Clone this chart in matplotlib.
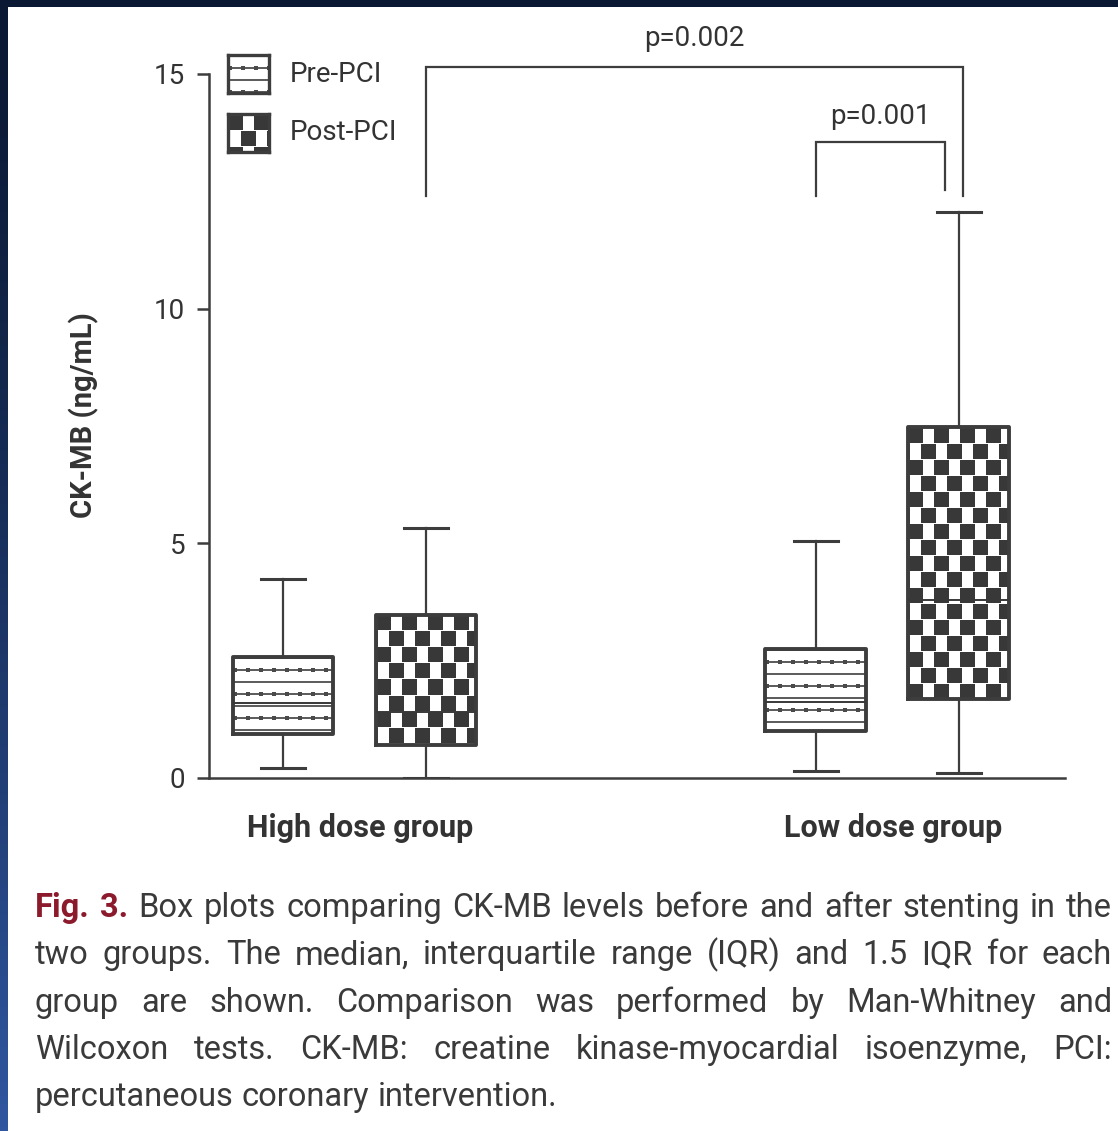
import numpy as np
import matplotlib.pyplot as plt
import matplotlib.transforms as transforms
from matplotlib.colors import to_rgb

# ---- data ----
groups = ['High dose group', 'Low dose group']
series = ['Pre-PCI', 'Post-PCI']
# five-number summaries: whisker low, Q1, median, Q3, whisker high (ng/mL)
pre_high = [0.21, 0.94, 1.60, 2.57, 4.23]
post_high = [0.00, 0.70, 1.40, 3.47, 5.32]
pre_low = [0.15, 1.00, 1.62, 2.74, 5.06]
post_low = [0.10, 1.68, 3.80, 7.47, 12.06]
yticks = [0, 5, 10, 15]
p_labels = ['p=0.002', 'p=0.001']

caption = [
    "Fig. 3. Box plots comparing CK-MB levels before and after stenting in the",
    "two groups. The median, interquartile range (IQR) and 1.5 IQR for each",
    "group are shown. Comparison was performed by Man-Whitney and",
    "Wilcoxon tests. CK-MB: creatine kinase-myocardial isoenzyme, PCI:",
    "percutaneous coronary intervention.",
]

W, H, DPI = 1118, 1131, 100
INK = '#3d3d3d'
DARK = '#383838'
TXT = '#333333'
FONT = ['Roboto', 'DejaVu Sans']
plt.rcParams['font.family'] = FONT


def fx(px):
    return px / W


def fy(py):
    return 1 - py / H


def checker(h, w, period=26, dark_w=15, ch=16):
    rr, cc = np.mgrid[0:h, 0:w]
    shift = (rr // ch) % 2 * (period // 2)
    dark = ((cc + shift) % period) < dark_w
    img = np.ones((h, w, 3))
    img[dark] = to_rgb(DARK)
    img[(rr % ch) == 0] = 1.0
    return img


def stripes(h, w, step=12):
    rr, cc = np.mgrid[0:h, 0:w]
    img = np.ones((h, w, 3))
    img[(rr % step) < 2] = to_rgb('#5e5e5e')
    k = rr % (2 * step)
    dots = (k >= step - 1) & (k < step + 3) & ((cc % 13) < 4)
    img[dots] = to_rgb('#4a4a4a')
    return img


fig = plt.figure(figsize=(W / DPI, H / DPI), dpi=DPI)
fig.patch.set_facecolor('white')

# dark page border (top band + left gradient strip)
top = fig.add_axes([0, fy(7), 1, 7 / H])
top.set_facecolor('#0b1833')
top.set_xticks([]); top.set_yticks([])
for s in top.spines.values():
    s.set_visible(False)
left = fig.add_axes([0, 0, fx(8), 1])
c0, c1 = np.array(to_rgb('#0b1833')), np.array(to_rgb('#2f57a0'))
t = np.linspace(0, 1, 256)[:, None, None]
left.imshow(c0 + (c1 - c0) * t ** 1.3, aspect='auto', extent=(0, 1, 0, 1))
left.axis('off')

ax = fig.add_axes([fx(209), fy(778), 856 / W, 704 / H])
ax.set_xlim(0.4825, 6.469)
ax.set_ylim(0, 15)

positions = [1.0, 2.0, 4.727, 5.727]
width = 0.706
boxes = [pre_high, post_high, pre_low, post_low]
kinds = ['pre', 'post', 'pre', 'post']

stats = []
for b in boxes:
    stats.append(dict(whislo=b[0], q1=b[1], med=b[2], q3=b[3], whishi=b[4], fliers=[]))

# pattern fill of each box
for b, pos, kind in zip(boxes, positions, kinds):
    x0, x1 = pos - width / 2, pos + width / 2
    p0 = ax.transData.transform((x0, b[1]))
    p1 = ax.transData.transform((x1, b[3]))
    w = int(round(abs(p1[0] - p0[0])))
    h = int(round(abs(p1[1] - p0[1])))
    img = checker(h, w) if kind == 'post' else stripes(h, w)
    ax.imshow(img, extent=(x0, x1, b[1], b[3]), aspect='auto',
              interpolation='nearest', zorder=1)

ax.bxp(stats, positions=positions, widths=width, capwidths=0.31,
       showfliers=False, patch_artist=False,
       boxprops=dict(color=INK, lw=2.8),
       whiskerprops=dict(color=INK, lw=1.6),
       capprops=dict(color=INK, lw=2.2),
       medianprops=dict(color=DARK, lw=1.4))

ax.set_xlim(0.4825, 6.469)
ax.set_ylim(0, 15)
ax.set_yticks(yticks)
ax.set_yticklabels([str(v) for v in yticks], fontsize=20, color=TXT)
ax.set_xticks([])
ax.tick_params(axis='y', direction='out', length=9, width=1.8, color=INK, pad=8)
for s in ['top', 'right']:
    ax.spines[s].set_visible(False)
for s in ['left', 'bottom']:
    ax.spines[s].set_color(INK)
    ax.spines[s].set_linewidth(1.8)

# significance brackets
brackets = [
    (positions[1], positions[3] + 0.028, 12.40, 12.40, 15.15, p_labels[0], 15),
    (positions[2], positions[3] - 0.097, 12.40, 12.53, 13.55, p_labels[1], 13),
]
for x1, x2, yb1, yb2, yt, lab, off in brackets:
    ax.plot([x1, x1, x2, x2], [yb1, yt, yt, yb2], color=INK, lw=1.6,
            clip_on=False, solid_joinstyle='miter')
    ax.annotate(lab, xy=((x1 + x2) / 2, yt), xytext=(0, off),
                textcoords='offset points', ha='center', va='baseline',
                fontsize=20, color=TXT, annotation_clip=False)

# group labels
blend = transforms.blended_transform_factory(ax.transData, fig.transFigure)
for g, (a, b) in zip(groups, [(0, 1), (2, 3)]):
    ax.text((positions[a] + positions[b]) / 2 + 0.04, fy(828), g, transform=blend,
            ha='center', va='center', fontsize=22, fontweight='bold', color=TXT)

fig.text(fx(84), fy(415), 'CK-MB (ng/mL)', rotation=90, ha='center', va='center',
         fontsize=21, fontweight='bold', color=TXT)

# legend swatches
for lab, kind, ytop in zip(series, ['pre', 'post'], [55, 114]):
    sw = fig.add_axes([fx(228), fy(ytop + 38), 41 / W, 38 / H])
    img = checker(38, 41) if kind == 'post' else stripes(38, 41)
    sw.imshow(img, aspect='auto', interpolation='nearest')
    sw.set_xticks([]); sw.set_yticks([])
    for s in sw.spines.values():
        s.set_color(INK)
        s.set_linewidth(2.4)
    fig.text(fx(290), fy(ytop + 19), lab, ha='left', va='center',
             fontsize=20, color=TXT)

# caption, justified
renderer = fig.canvas.get_renderer()
cap_left, cap_right = 35, 1112
base = 917
red = '#8b1a2c'
for i, line in enumerate(caption):
    words = line.split(' ')
    texts = []
    for j, wd in enumerate(words):
        props = dict(fontsize=23.5, color='#3a3a3a')
        if i == 0 and j < 2:
            props.update(color=red, fontweight='bold')
        texts.append(fig.text(0, fy(base + i * 47.3), wd, ha='left', va='baseline', **props))
    widths = [tx.get_window_extent(renderer).width for tx in texts]
    if i < len(caption) - 1:
        gap = (cap_right - cap_left - sum(widths)) / (len(words) - 1)
    else:
        gap = 8
    x = cap_left
    for tx, wd in zip(texts, widths):
        tx.set_x(fx(x))
        x += wd + gap

fig.savefig('out.png', dpi=DPI)
